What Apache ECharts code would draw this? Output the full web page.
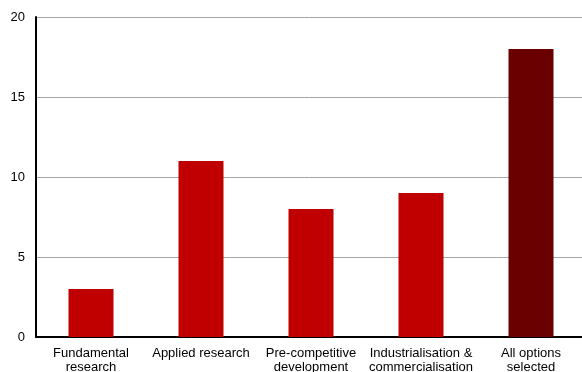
<!DOCTYPE html>
<html>
<head>
<meta charset="utf-8">
<script src="https://cdn.jsdelivr.net/npm/echarts@6/dist/echarts.min.js"></script>
<style>
  html, body { margin: 0; padding: 0; background: #fff; }
  #chart { width: 582px; height: 372px; }
</style>
</head>
<body>
<div id="chart"></div>
<script>
// Project stages and number of responses for each
const categories = [
  'Fundamental\nresearch',
  'Applied research',
  'Pre-competitive\ndevelopment',
  'Industrialisation &\ncommercialisation',
  'All options\nselected'
];
const counts = [3, 11, 8, 9, 18];
const yTicks = { min: 0, max: 20, interval: 5 };

const RED = '#c00000';
const DARK_RED = '#6b0000';

const chart = echarts.init(document.getElementById('chart'), null, { renderer: 'canvas' });

chart.setOption({
  animation: false,
  backgroundColor: '#ffffff',
  // plot area runs slightly past the right edge of the canvas
  grid: {
    left: 36, width: 550, top: 17, bottom: 35,
    containLabel: false,
    outerBoundsMode: 'none'
  },
  xAxis: {
    type: 'category',
    data: categories,
    axisLine: { show: true, lineStyle: { color: '#000', width: 2 } },
    axisTick: { show: false },
    axisLabel: {
      interval: 0,
      margin: 9,
      color: '#000',
      fontFamily: 'Liberation Sans, Arial, sans-serif',
      fontSize: 13,
      lineHeight: 14
    },
    splitLine: { show: false }
  },
  yAxis: {
    type: 'value',
    min: yTicks.min,
    max: yTicks.max,
    interval: yTicks.interval,
    axisLine: { show: true, lineStyle: { color: '#000', width: 2 } },
    axisTick: { show: false },
    axisLabel: {
      margin: 11,
      color: '#000',
      fontFamily: 'Liberation Sans, Arial, sans-serif',
      fontSize: 13
    },
    splitLine: { show: true, lineStyle: { color: '#a6a6a6', width: 1 } }
  },
  series: [{
    type: 'bar',
    barWidth: 45,
    data: counts.map((v, i) => ({
      value: v,
      itemStyle: { color: i === counts.length - 1 ? DARK_RED : RED }
    }))
  }]
});
</script>
</body>
</html>
